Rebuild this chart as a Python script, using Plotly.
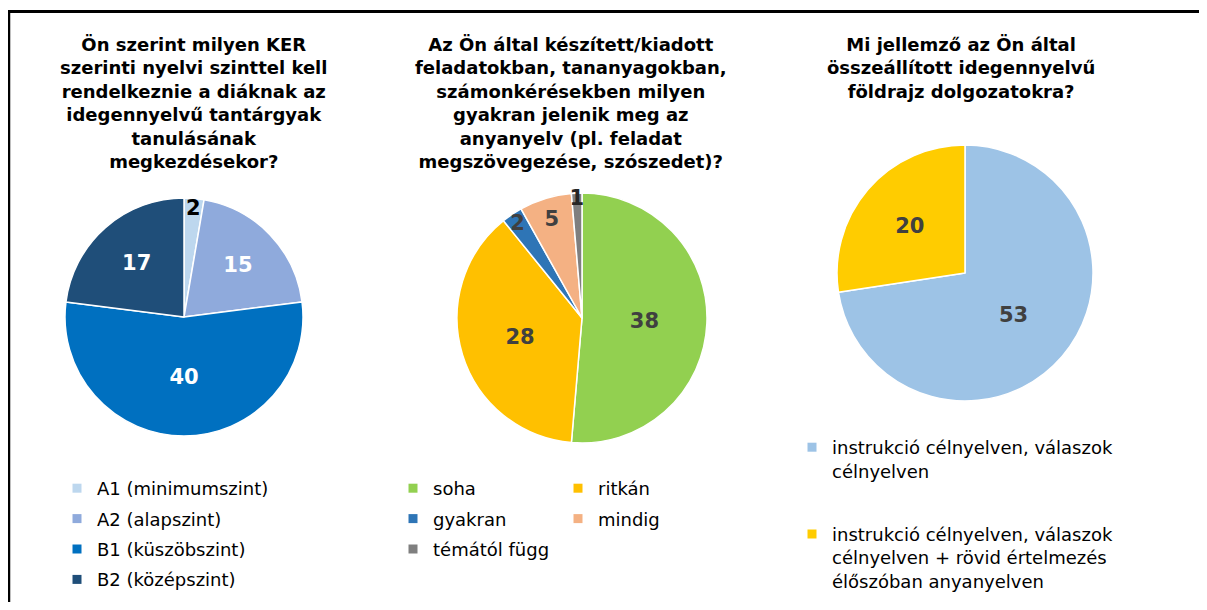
import plotly.graph_objects as go

# the page body has an 8px margin, so the figure is drawn 8px in from the window edge;
# keep it small enough that the window gets no scrollbars
OFF = 8
W, H = 1207 - 2 * OFF, 610 - 2 * OFF

# --- data -------------------------------------------------------------
kerszint_labels = ["A1 (minimumszint)", "A2 (alapszint)", "B1 (küszöbszint)", "B2 (középszint)"]
kerszint_values = [2, 15, 40, 17]
kerszint_colors = ["#BDD7EE", "#8FAADC", "#0070C0", "#1F4E79"]

anyanyelv_labels = ["soha", "ritkán", "gyakran", "mindig", "témától függ"]
anyanyelv_values = [38, 28, 2, 5, 1]
anyanyelv_colors = ["#92D050", "#FFC000", "#2E75B6", "#F4B183", "#7F7F7F"]

dolgozat_labels = ["instrukció célnyelven, válaszok<br>célnyelven",
                   "instrukció célnyelven, válaszok<br>célnyelven + rövid értelmezés<br>élőszóban anyanyelven"]
dolgozat_values = [53, 20]
dolgozat_colors = ["#9DC3E6", "#FFCC00"]

titles = [
    "Ön szerint milyen KER<br>szerinti nyelvi szinttel kell<br>rendelkeznie a diáknak az<br>idegennyelvű tantárgyak<br>tanulásának<br>megkezdésekor?",
    "Az Ön által készített/kiadott<br>feladatokban, tananyagokban,<br>számonkérésekben milyen<br>gyakran jelenik meg az<br>anyanyelv (pl. feladat<br>megszövegezése, szószedet)?",
    "Mi jellemző az Ön által<br>összeállított idegennyelvű<br>földrajz dolgozatokra?",
]

FONT = "DejaVu Sans"


def px(x):
    # window pixel -> paper x
    return (x - OFF) / W


def py(y):
    # window pixel -> paper y
    return 1 - (y - OFF) / H


def dom(left, top, size):
    return dict(x=[px(left), px(left + size)], y=[py(top + size), py(top)])


def pie(labels, values, colors, domain, textcolors):
    return go.Pie(
        labels=labels, values=values, domain=domain,
        sort=False, direction="clockwise", rotation=0,
        marker=dict(colors=colors, line=dict(color="white", width=1.5)),
        textinfo="value", textposition="inside",
        insidetextorientation="horizontal",
        textfont=dict(family=FONT, size=21, color=textcolors, weight="bold"),
        showlegend=False, hoverinfo="label+value",
    )


fig = go.Figure()
fig.add_trace(pie(kerszint_labels, kerszint_values, kerszint_colors, dom(65, 198, 238),
                  ["black", "white", "white", "white"]))
fig.add_trace(pie(anyanyelv_labels, anyanyelv_values, anyanyelv_colors, dom(457, 193, 250),
                  ["#404040", "#404040", "#404040", "#404040", "#262626"]))
fig.add_trace(pie(dolgozat_labels, dolgozat_values, dolgozat_colors, dom(837, 145, 256),
                  ["#404040", "#404040"]))


# legend-only entries (so the legends can be laid out like the original)
def legend_entry(name, color, legend, group):
    fig.add_trace(go.Scatter(
        x=[None], y=[None], mode="markers", name=name, legend=legend,
        legendgroup=group, hoverinfo="skip",
        marker=dict(symbol="square", size=9, color=color),
    ))


for lab, col in zip(kerszint_labels, kerszint_colors):
    legend_entry(lab, col, "legend", "k_" + lab)
for i, (lab, col) in enumerate(zip(anyanyelv_labels, anyanyelv_colors)):
    legend_entry(lab, col, "legend2" if i % 2 == 0 else "legend4", "a_" + lab)
for i, (lab, col) in enumerate(zip(dolgozat_labels, dolgozat_colors)):
    legend_entry(lab, col, "legend3", "d_%d" % i)

leg_common = dict(xanchor="left", yanchor="top", bgcolor="rgba(0,0,0,0)",
                  font=dict(family=FONT, size=18, color="black"),
                  traceorder="grouped", tracegroupgap=4)

fig.update_layout(
    width=W, height=H,
    margin=dict(l=0, r=0, t=0, b=0),
    paper_bgcolor="white", plot_bgcolor="white",
    font=dict(family=FONT, color="black"),
    uniformtext=dict(minsize=21, mode="show"),
    xaxis=dict(visible=False), yaxis=dict(visible=False),
    legend=dict(x=px(57), y=py(470), **leg_common),
    legend2=dict(x=px(393), y=py(470), **leg_common),
    legend4=dict(x=px(558), y=py(470), **leg_common),
    legend3=dict(x=px(792), y=py(429), xanchor="left", yanchor="top",
                 bgcolor="rgba(0,0,0,0)", valign="top",
                 font=dict(family=FONT, size=18, color="black"),
                 traceorder="grouped", tracegroupgap=37),
)

for txt, cx in zip(titles, [193, 571, 961]):
    fig.add_annotation(text="<b>%s</b>" % txt, x=px(cx), y=py(32),
                       xref="paper", yref="paper", xanchor="center", yanchor="top",
                       showarrow=False, align="center",
                       font=dict(family=FONT, size=18, color="black"))

# frame lines
fig.add_shape(type="line", xref="paper", yref="paper",
              x0=0, x1=1, y0=py(11.5), y1=py(11.5),
              line=dict(color="black", width=3))
fig.add_shape(type="line", xref="paper", yref="paper",
              x0=1 / W, x1=1 / W, y0=0, y1=py(11.5),
              line=dict(color="black", width=2.5))

fig.write_html("out.html")
